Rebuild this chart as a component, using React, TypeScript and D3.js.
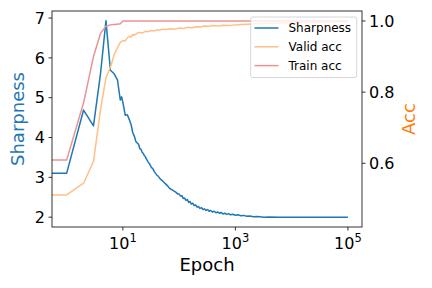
import React from 'react';
import * as d3 from 'd3';

const svgWidth = 432, svgHeight = 288;
const plot = { left: 52, right: 362, top: 11, bottom: 227 };

// sharpness (left axis)
const sharpEpochs = [
  0, 1, 2, 3, 4, 5, 6, 7, 8, 9, 9.5, 10, 11, 12, 13, 14, 15, 16, 17, 18, 19, 20,
  21, 22, 23, 24, 25, 26, 28, 30, 32, 34, 36, 38, 40, 43, 46, 50, 54, 58, 63, 68, 74, 80, 87, 95,
  100, 106, 112, 118, 125, 132, 140, 148, 156, 165, 175, 185, 196, 208, 220, 235, 250, 265, 280,
  300, 320, 340, 365, 390, 420, 450, 480, 520, 560, 600, 650, 700, 760, 820, 900,
  1000, 1100, 1250, 1400, 1600, 1800, 2100, 2500, 3200, 4000, 6000, 10000, 30000, 100000,
];
const sharpValues = [
  3.1, 3.1, 4.69, 4.29, 5.6, 6.93, 5.69, 5.6, 5.45, 4.94, 5.02, 4.88, 4.56, 4.57, 4.45, 4.32, 4.12, 4.03, 3.9, 3.86, 3.83, 3.72,
  3.7, 3.63, 3.6, 3.55, 3.52, 3.47, 3.39, 3.33, 3.25, 3.22, 3.15, 3.1, 3.06, 3.02, 2.96, 2.92, 2.87, 2.83, 2.78, 2.72, 2.69, 2.66, 2.63, 2.58,
  2.58, 2.53, 2.54, 2.47, 2.48, 2.42, 2.44, 2.37, 2.39, 2.33, 2.35, 2.29, 2.31, 2.25, 2.27, 2.22, 2.24, 2.19, 2.21,
  2.17, 2.19, 2.15, 2.17, 2.13, 2.15, 2.11, 2.13, 2.1, 2.12, 2.08, 2.1, 2.07, 2.09, 2.06, 2.075,
  2.05, 2.06, 2.035, 2.045, 2.025, 2.03, 2.01, 2.015, 2.0, 2.005, 2.0, 2.0, 2.0, 2.0,
];

// valid acc (right axis)
const validEpochs = [
  0, 1, 2, 3, 4, 5, 6, 7, 8, 9, 10, 11, 12, 13, 14, 15, 16, 18, 20, 22, 25, 28, 32, 36, 40, 45, 50,
  60, 70, 85, 100, 120, 140, 170, 200, 240, 280, 340, 400, 500, 600, 800, 1000, 1300, 1700,
  2500, 4000, 7000, 10000, 20000, 50000, 100000,
];
const validValues = [
  0.511, 0.511, 0.544, 0.605, 0.75, 0.84, 0.87, 0.905, 0.925, 0.94, 0.945, 0.944, 0.952, 0.957, 0.955, 0.962, 0.96, 0.966, 0.968, 0.966, 0.971, 0.97, 0.973, 0.972, 0.975, 0.974, 0.977,
  0.976, 0.978, 0.977, 0.98, 0.979, 0.982, 0.981, 0.984, 0.983, 0.986, 0.985, 0.987, 0.986, 0.988, 0.987, 0.989, 0.99, 0.991,
  0.992, 0.993, 0.994, 0.995, 0.996, 0.997, 0.998,
];

// train acc (right axis)
const trainEpochs = [0, 1, 2, 3, 4, 5, 6, 7, 8, 9, 10, 100, 1000, 100000];
const trainValues = [0.609, 0.609, 0.77, 0.9, 0.965, 0.985, 0.989, 0.99, 0.991, 0.992, 1.0, 1.0, 1.0, 1.0];

const sharpTicks = [2, 3, 4, 5, 6, 7];
const accTicks = [0.6, 0.8, 1.0];
const xTickExps = [1, 3, 5];

const colors = {
  sharp: '#1f77b4',
  valid: '#ffbf86',
  train: '#ea9393',
  accLabel: '#ff7f0e',
};

const legendItems = [
  { label: 'Sharpness', color: colors.sharp },
  { label: 'Valid acc', color: colors.valid },
  { label: 'Train acc', color: colors.train },
];

const font = 'DejaVu Sans, sans-serif';

const App = () => {
  const xScale = d3.scaleLog()
    .domain([Math.pow(10, -0.26), Math.pow(10, 5.25)])
    .range([plot.left, plot.right]);
  const ySharp = d3.scaleLinear()
    .domain([1.7535, 7.1765])
    .range([plot.bottom, plot.top]);
  const yAcc = d3.scaleLinear()
    .domain([0.421, 1.028])
    .range([plot.bottom, plot.top]);

  // epoch 0 is clipped off the left of the log axis, like matplotlib does
  const xPos = (e: number) => (e <= 0 ? plot.left - 20 : xScale(e));

  const makeLine = (yScale: d3.ScaleLinear<number, number>) =>
    d3.line<[number, number]>()
      .x(d => xPos(d[0]))
      .y(d => yScale(d[1]));

  const sharpPath = makeLine(ySharp)(sharpEpochs.map((e, i) => [e, sharpValues[i]] as [number, number]));
  const validPath = makeLine(yAcc)(validEpochs.map((e, i) => [e, validValues[i]] as [number, number]));
  const trainPath = makeLine(yAcc)(trainEpochs.map((e, i) => [e, trainValues[i]] as [number, number]));

  const midY = (plot.top + plot.bottom) / 2;

  return <svg width={svgWidth} height={svgHeight}
    style={{ position: 'absolute', left: 0, top: 0, background: '#fff' }}
    fontFamily={font}>
    <defs>
      <clipPath id='plotClip'>
        <rect x={plot.left} y={plot.top} width={plot.right - plot.left} height={plot.bottom - plot.top} />
      </clipPath>
    </defs>
    <rect width={svgWidth} height={svgHeight} fill='#fff' />

    {/* lines */}
    <g clipPath='url(#plotClip)' fill='none' strokeLinejoin='round'>
      <path d={sharpPath || ''} stroke={colors.sharp} strokeWidth={1.5} />
      <path d={validPath || ''} stroke={colors.valid} strokeWidth={1.5} />
      <path d={trainPath || ''} stroke={colors.train} strokeWidth={1.5} />
    </g>

    {/* frame */}
    <rect x={plot.left} y={plot.top} width={plot.right - plot.left} height={plot.bottom - plot.top}
      fill='none' stroke='#000' strokeWidth={0.8} />

    {/* left axis */}
    <g>
      {sharpTicks.map(t => <g key={t}>
        <line x1={plot.left - 3.5} x2={plot.left} y1={ySharp(t)} y2={ySharp(t)} stroke='#000' strokeWidth={0.8} />
        <text x={plot.left - 7} y={ySharp(t)} dy='0.36em' textAnchor='end' fontSize={16} fill='#000'>{t}</text>
      </g>)}
      <text transform={`translate(18, ${midY}) rotate(-90)`} textAnchor='middle' dy='0.36em'
        fontSize={18} fill={colors.sharp}>Sharpness</text>
    </g>

    {/* right axis */}
    <g>
      {accTicks.map(t => <g key={t}>
        <line x1={plot.right} x2={plot.right + 3.5} y1={yAcc(t)} y2={yAcc(t)} stroke='#000' strokeWidth={0.8} />
        <text x={plot.right + 7} y={yAcc(t)} dy='0.36em' textAnchor='start' fontSize={16} fill='#000'>{t.toFixed(1)}</text>
      </g>)}
      <text transform={`translate(409, ${midY}) rotate(-90)`} textAnchor='middle' dy='0.36em'
        fontSize={18} fill={colors.accLabel}>Acc</text>
    </g>

    {/* bottom axis */}
    <g>
      {xTickExps.map(p => {
        const x = xScale(Math.pow(10, p));
        return <g key={p}>
          <line x1={x} x2={x} y1={plot.bottom} y2={plot.bottom + 3.5} stroke='#000' strokeWidth={0.8} />
          <text x={x} y={249} textAnchor='middle' fill='#000'>
            <tspan fontSize={16}>10</tspan>
            <tspan fontSize={11.5} dy={-7}>{p}</tspan>
          </text>
        </g>;
      })}
      <text x={(plot.left + plot.right) / 2} y={271} textAnchor='middle' fontSize={18} fill='#000'>Epoch</text>
    </g>

    {/* legend */}
    <g>
      <rect x={250.7} y={17} width={106} height={60.5} rx={2}
        fill='#fff' fillOpacity={0.8} stroke='#cccccc' strokeWidth={0.8} />
      {legendItems.map((item, i) => {
        const y = 28 + i * 18.8;
        return <g key={item.label}>
          <line x1={254.5} x2={278.5} y1={y} y2={y} stroke={item.color} strokeWidth={1.5} />
          <text x={288.5} y={y} dy='0.36em' fontSize={12} fill='#000'>{item.label}</text>
        </g>;
      })}
    </g>
  </svg>;
};

export default App;
